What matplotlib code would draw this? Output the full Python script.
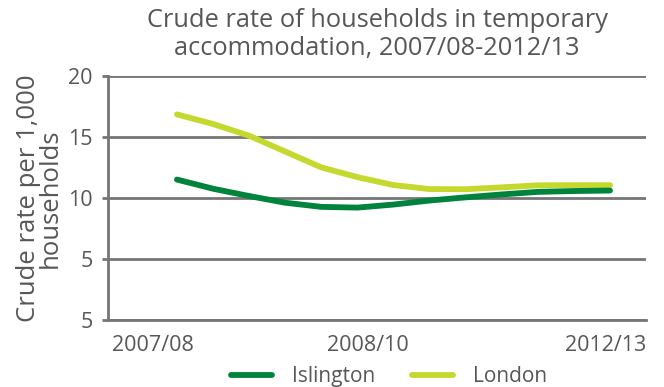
import matplotlib
matplotlib.use("Agg")
import matplotlib.pyplot as plt

# Crude rate of households in temporary accommodation (per 1,000 households)
periods = list(range(13))
islington = [11.5, 10.75, 10.15, 9.6, 9.26, 9.2, 9.45, 9.78, 10.04, 10.28, 10.49, 10.56, 10.6]
london = [16.85, 16.06, 15.1, 13.8, 12.5, 11.7, 11.05, 10.72, 10.71, 10.86, 11.03, 11.04, 11.04]

x_labels = ["2007/08", "2008/10", "2012/13"]
y_ticks = [0, 5, 10, 15, 20]
y_labels = ["5", "5", "10", "15", "20"]

grey = "#767676"
text_col = "#575757"
plt.rcParams["font.family"] = ["Open Sans", "DejaVu Sans"]
plt.rcParams["font.weight"] = "medium"

fig = plt.figure(figsize=(6.64, 3.87), dpi=100)
ax = fig.add_axes([0.1627, 0.1739, 0.973 - 0.1627, 0.8036 - 0.1739])

ax.plot(periods, islington, color="#00843d", lw=4.2, solid_capstyle="round",
        solid_joinstyle="round", label="Islington", zorder=3)
ax.plot(periods, london, color="#c4d82e", lw=4.2, solid_capstyle="round",
        solid_joinstyle="round", label="London", zorder=2)

xmin, xmax = -1.91, 13.0
ax.set_xlim(xmin, xmax)
ax.set_ylim(0, 20)

ax.set_yticks(y_ticks)
ax.set_yticklabels(y_labels)
ax.yaxis.grid(True, color=grey, lw=2)
ax.set_axisbelow(True)

# first and last labels hug the plot edges, middle one is centred
ax.set_xticks([xmin + 0.12, 5.3, xmax])
ax.set_xticklabels(x_labels)
for lab, ha in zip(ax.get_xticklabels(), ["left", "center", "right"]):
    lab.set_ha(ha)
ax.tick_params(axis="x", length=0, pad=11, labelsize=15.5, labelcolor=text_col)
ax.tick_params(axis="y", length=4, width=2, color=grey, pad=7,
               labelsize=15.5, labelcolor=text_col)

for side in ["top", "right"]:
    ax.spines[side].set_visible(False)
for side in ["left", "bottom"]:
    ax.spines[side].set_color(grey)
    ax.spines[side].set_linewidth(2)

ax.set_ylabel("Crude rate per 1,000\nhouseholds", fontsize=18.5, color=text_col,
              linespacing=0.8, labelpad=4)

fig.text(0.568, 0.98, "Crude rate of households in temporary\naccommodation, 2007/08-2012/13",
         ha="center", va="top", fontsize=18.3, color=text_col, linespacing=1.15)

leg = ax.legend(loc="upper center", bbox_to_anchor=(0.522, -0.115), ncol=2,
                frameon=False, fontsize=15, handlelength=2.0, handletextpad=0.95,
                columnspacing=1.75)
for t in leg.get_texts():
    t.set_color(text_col)

fig.savefig("out.png", dpi=100)
